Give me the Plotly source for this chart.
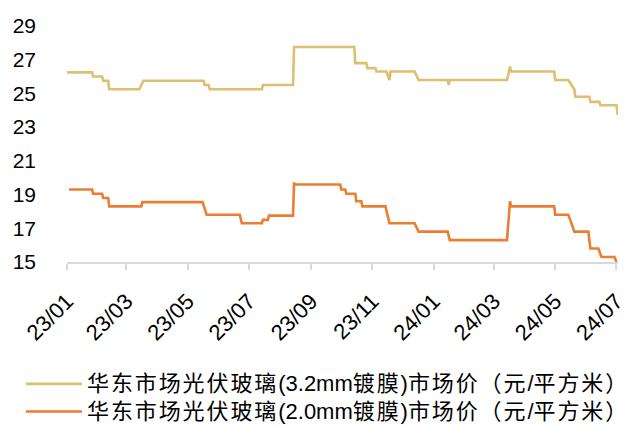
import plotly.graph_objects as go

# 华东市场光伏玻璃(3.2mm镀膜) 市场价
dates_32 = [
    "2023-01-01", "2023-01-26", "2023-01-27", "2023-02-05", "2023-02-06", "2023-02-11",
    "2023-02-12", "2023-03-14", "2023-03-18", "2023-05-17", "2023-05-18", "2023-05-22",
    "2023-05-23", "2023-07-14", "2023-07-15", "2023-08-14", "2023-08-15", "2023-10-14",
    "2023-10-15", "2023-10-26", "2023-10-27", "2023-11-04", "2023-11-05", "2023-11-15",
    "2023-11-18", "2023-11-19", "2023-12-13", "2023-12-17", "2024-01-15", "2024-01-16",
    "2024-01-17", "2024-03-14", "2024-03-17", "2024-03-18", "2024-04-30", "2024-05-01",
    "2024-05-14", "2024-05-17", "2024-05-20", "2024-05-21", "2024-06-04", "2024-06-05",
    "2024-06-14", "2024-06-15", "2024-07-01", "2024-07-02", "2024-07-04",
]
price_32 = [
    26.25, 26.25, 26.0, 26.0, 25.75, 25.75,
    25.25, 25.25, 25.75, 25.75, 25.5, 25.5,
    25.25, 25.25, 25.5, 25.5, 27.75, 27.75,
    26.8, 26.8, 26.5, 26.5, 26.3, 26.3,
    25.8, 26.3, 26.3, 25.8, 25.8, 25.5,
    25.8, 25.8, 26.6, 26.3, 26.3, 25.8,
    25.8, 25.5, 25.25, 24.8, 24.8, 24.5,
    24.5, 24.3, 24.3, 23.8, 23.8,
]

# 华东市场光伏玻璃(2.0mm镀膜) 市场价
dates_20 = [
    "2023-01-03", "2023-01-26", "2023-01-27", "2023-02-05", "2023-02-06", "2023-02-11",
    "2023-02-12", "2023-03-16", "2023-03-17", "2023-05-16", "2023-05-20", "2023-06-22",
    "2023-06-24", "2023-07-14", "2023-07-15", "2023-07-20", "2023-07-21", "2023-08-14",
    "2023-08-15", "2023-08-17", "2023-09-30", "2023-10-01", "2023-10-05", "2023-10-06",
    "2023-10-15", "2023-10-16", "2023-10-21", "2023-10-22", "2023-11-14", "2023-11-16",
    "2023-11-18", "2023-12-13", "2023-12-17", "2024-01-15", "2024-01-17", "2024-03-14",
    "2024-03-17", "2024-03-18", "2024-04-30", "2024-05-01", "2024-05-14", "2024-05-16",
    "2024-05-18", "2024-05-20", "2024-06-03", "2024-06-05", "2024-06-13", "2024-06-16",
    "2024-06-29", "2024-07-01",
]
price_20 = [
    19.3, 19.3, 19.05, 19.05, 18.8, 18.8,
    18.3, 18.3, 18.55, 18.55, 17.8, 17.8,
    17.3, 17.3, 17.5, 17.5, 17.75, 17.75,
    19.65, 19.6, 19.6, 19.3, 19.3, 19.05,
    19.05, 18.6, 18.6, 18.3, 18.3, 17.7,
    17.3, 17.3, 16.8, 16.8, 16.3, 16.3,
    18.6, 18.3, 18.3, 17.8, 17.8, 17.5,
    17.1, 16.8, 16.8, 15.8, 15.8, 15.3,
    15.3, 15.0,
]

tick_vals = ["2023-01-01", "2023-03-01", "2023-05-01", "2023-07-01", "2023-09-01",
             "2023-11-01", "2024-01-01", "2024-03-01", "2024-05-01", "2024-07-01"]
tick_text = ["23/01", "23/03", "23/05", "23/07", "23/09",
             "23/11", "24/01", "24/03", "24/05", "24/07"]
y_ticks = [15, 17, 19, 21, 23, 25, 27, 29]

# legend names: alternating [CJK part, latin part, ...]; last piece has no extra spacing
name_parts_32 = ["华东市场光伏玻璃", "(3.2mm", "镀膜", ")", "市场价（元", "/", "平方米", "）"]
name_parts_20 = ["华东市场光伏玻璃", "(2.0mm", "镀膜", ")", "市场价（元", "/", "平方米", "）"]


def legend_name(parts):
    out = []
    for i, p in enumerate(parts):
        if i % 2 == 0:
            out.append('<span style="font-size:22px;letter-spacing:1.9px">' + p + '</span>')
        else:
            out.append('<span style="font-size:22px">' + p + '</span>')
    return "".join(out)


fig = go.Figure()
fig.add_trace(go.Scatter(x=dates_32, y=price_32, mode="lines", name=legend_name(name_parts_32),
                         line=dict(color="#DCC070", width=2.6)))
fig.add_trace(go.Scatter(x=dates_20, y=price_20, mode="lines", name=legend_name(name_parts_20),
                         line=dict(color="#ED7D31", width=2.6)))

fig.update_layout(
    width=627, height=428,
    margin=dict(l=67, r=9, t=26, b=166, autoexpand=False),
    paper_bgcolor="white", plot_bgcolor="white",
    font=dict(family="Liberation Sans, Arial, Noto Sans CJK SC", size=21, color="#000000"),
    showlegend=True,
    legend=dict(
        orientation="v", xref="container", yref="container",
        x=21 / 627, y=1 - 365 / 428, xanchor="left", yanchor="top",
        font=dict(family="Liberation Sans, Noto Sans CJK SC", size=19, color="#000000"),
        itemwidth=56, tracegroupgap=0, bgcolor="rgba(0,0,0,0)",
    ),
    xaxis=dict(
        type="date", range=["2023-01-01", "2024-07-02 12:00"],
        tickvals=tick_vals, ticktext=tick_text, tickangle=-45,
        showgrid=False, zeroline=False,
        showline=True, linecolor="#D9D9D9", linewidth=1.5,
        ticks="outside", ticklen=6, tickwidth=1.5, tickcolor="#D9D9D9",
        tickfont=dict(size=22), ticklabelstandoff=10, ticklabeloverflow="allow",
    ),
    yaxis=dict(
        range=[15, 29], tickvals=y_ticks, showgrid=False, zeroline=False,
        showline=False, ticks="", ticklabelstandoff=30,
        tickfont=dict(size=21),
    ),
)

fig.write_html("out.html")
